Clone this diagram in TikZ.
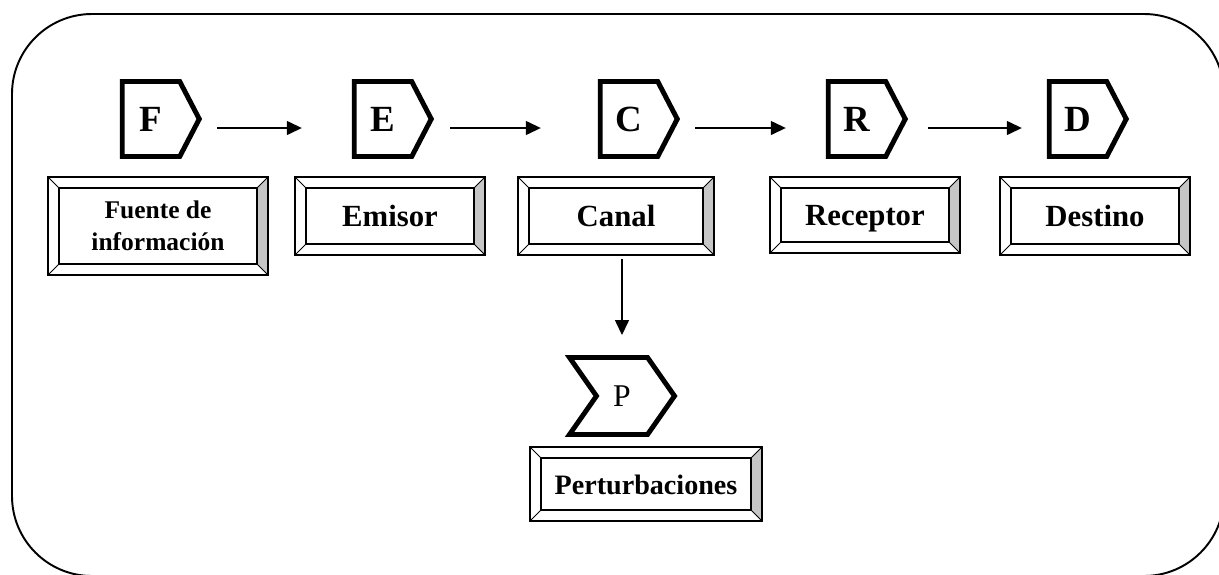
\documentclass[tikz,border=0pt]{standalone}
\usepackage{fontspec}
\setmainfont{Liberation Serif}
\usetikzlibrary{arrows.meta, shapes.symbols}

\tikzset{
    tag/.style={draw, line width=2.8pt, signal, signal to=east, signal pointer angle=125,
        minimum width=1.54cm, minimum height=1.5cm, inner sep=0pt,
        font=\fontsize{21}{25}\selectfont\bfseries},
    bevel/.style={draw, line width=1pt, fill=white, inner sep=0pt, minimum height=1.56cm,
        align=center, text height=14pt, text depth=2.6pt,
        font=\fontsize{17.5}{21}\selectfont\bfseries,
        path picture={
            \coordinate (bne) at (path picture bounding box.north east);
            \coordinate (bsw) at (path picture bounding box.south west);
            \coordinate (bnw) at (path picture bounding box.north west);
            \coordinate (bse) at (path picture bounding box.south east);
            \fill [gray!45] (bne) -- ([shift={(-0.22cm,-0.22cm)}]bne) -- ([shift={(-0.22cm,0.22cm)}]bse) -- (bse) -- cycle;
            \draw [line width=0.7pt] ([shift={(0.22cm,-0.22cm)}]bnw) rectangle ([shift={(-0.22cm,0.22cm)}]bse);
            \draw [line width=0.5pt] (bnw) -- ++(0.22cm,-0.22cm) (bne) -- ++(-0.22cm,-0.22cm)
                (bsw) -- ++(0.22cm,0.22cm) (bse) -- ++(-0.22cm,0.22cm);
        }},
    flow/.style={-{Triangle[length=0.3cm, width=0.28cm]}, line width=0.8pt},
}

\begin{document}
\begin{tikzpicture}
    \useasboundingbox (0,0) rectangle (24.38,-11.48);
    \draw [line width=1.1pt, rounded corners=1.6cm] (0.24,-0.28) rectangle (24.48,-11.52);

    % letters
    \node [tag] (f) at (3.02,-2.38) {F};
    \node [tag] (e) at (7.66,-2.38) {E};
    \node [tag] (c) at (12.58,-2.38) {C};
    \node [tag] (r) at (17.14,-2.38) {R};
    \node [tag] (d) at (21.56,-2.38) {D};
    \node [tag, signal from=west, signal pointer angle=110, minimum width=2.1cm, minimum height=1.54cm,
        font=\fontsize{18}{21}\selectfont] (p) at (12.44,-7.92) {P};

    % boxes
    \node [bevel, minimum width=4.4cm, minimum height=1.96cm, text height=, text depth=,
        font=\fontsize{14.5}{18}\selectfont\bfseries] (fuente) at (3.16,-4.52) {Fuente de\\información};
    \node [bevel, minimum width=3.8cm] (emisor) at (7.8,-4.32) {Emisor};
    \node [bevel, minimum width=3.92cm] (canal) at (12.32,-4.32) {Canal};
    \node [bevel, minimum width=3.8cm, minimum height=1.52cm] (receptor) at (17.3,-4.3) {Receptor};
    \node [bevel, minimum width=3.8cm] (destino) at (21.9,-4.32) {Destino};
    \node [bevel, minimum width=4.64cm, minimum height=1.48cm, font=\fontsize{16}{19}\selectfont\bfseries]
        (perturb) at (12.92,-9.68) {Perturbaciones};

    \draw [flow, shorten <=0.3cm, shorten >=1cm] ([yshift=-0.18cm]f.east) -- ([yshift=-0.18cm]e.west);
    \draw [flow, shorten <=0.32cm, shorten >=1.14cm] ([yshift=-0.18cm]e.east) -- ([yshift=-0.18cm]c.west);
    \draw [flow, shorten <=0.3cm, shorten >=0.8cm] ([yshift=-0.18cm]c.east) -- ([yshift=-0.18cm]r.west);
    \draw [flow, shorten <=0.4cm, shorten >=0.5cm] ([yshift=-0.18cm]r.east) -- ([yshift=-0.18cm]d.west);
    \draw [flow, shorten <=0.06cm, shorten >=0.4cm] (canal.south -| p.north) -- (p.north);
\end{tikzpicture}
\end{document}
